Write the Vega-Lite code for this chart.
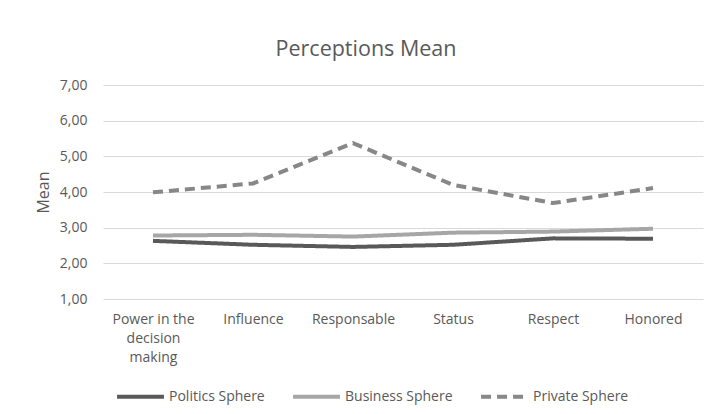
{
  "$schema": "https://vega.github.io/schema/vega-lite/v6.json",
  "width": 600,
  "height": 214,
  "autosize": {"type": "none"},
  "padding": {"left": 103, "top": 85, "right": 8, "bottom": 115},
  "background": "white",
  "title": {
    "text": "Perceptions Mean",
    "fontSize": 21.5,
    "font": "Open Sans",
    "fontWeight": "normal",
    "color": "#595959",
    "anchor": "middle",
    "dx": -37,
    "offset": 18
  },
  "config": {
    "view": {"stroke": null},
    "font": "Open Sans",
    "axis": {
      "labelColor": "#595959",
      "titleColor": "#595959",
      "labelFont": "Open Sans",
      "titleFont": "Open Sans",
      "labelFontSize": 14,
      "titleFontSize": 16,
      "titleFontWeight": "normal",
      "domain": false,
      "ticks": false
    },
    "legend": {
      "labelColor": "#595959",
      "labelFont": "Open Sans",
      "labelFontSize": 14
    }
  },
  "data": {
    "values": [
      {"item": "Power in the decision making", "series": "Politics Sphere", "value": 2.63},
      {"item": "Influence", "series": "Politics Sphere", "value": 2.52},
      {"item": "Responsable", "series": "Politics Sphere", "value": 2.46},
      {"item": "Status", "series": "Politics Sphere", "value": 2.52},
      {"item": "Respect", "series": "Politics Sphere", "value": 2.70},
      {"item": "Honored", "series": "Politics Sphere", "value": 2.69},
      {"item": "Power in the decision making", "series": "Business Sphere", "value": 2.78},
      {"item": "Influence", "series": "Business Sphere", "value": 2.80},
      {"item": "Responsable", "series": "Business Sphere", "value": 2.75},
      {"item": "Status", "series": "Business Sphere", "value": 2.86},
      {"item": "Respect", "series": "Business Sphere", "value": 2.89},
      {"item": "Honored", "series": "Business Sphere", "value": 2.97},
      {"item": "Power in the decision making", "series": "Private Sphere", "value": 3.99},
      {"item": "Influence", "series": "Private Sphere", "value": 4.24},
      {"item": "Responsable", "series": "Private Sphere", "value": 5.37},
      {"item": "Status", "series": "Private Sphere", "value": 4.20},
      {"item": "Respect", "series": "Private Sphere", "value": 3.69},
      {"item": "Honored", "series": "Private Sphere", "value": 4.11}
    ]
  },
  "mark": {"type": "line", "strokeWidth": 4, "strokeCap": "butt"},
  "encoding": {
    "x": {
      "field": "item",
      "type": "nominal",
      "sort": null,
      "scale": {"type": "point", "padding": 0.5},
      "axis": {
        "title": null,
        "labelAngle": 0,
        "labelPadding": 13,
        "labelLineHeight": 19,
        "labelBaseline": "top",
        "grid": false,
        "labelExpr": "datum.label == 'Power in the decision making' ? ['Power in the', 'decision', 'making'] : datum.label"
      }
    },
    "y": {
      "field": "value",
      "type": "quantitative",
      "scale": {"domain": [1, 7], "nice": false, "zero": false},
      "axis": {
        "title": "Mean",
        "values": [1, 2, 3, 4, 5, 6, 7],
        "labelExpr": "replace(format(datum.value, '.2f'), '.', ',')",
        "labelPadding": 16,
        "titlePadding": 8,
        "gridColor": "#d9d9d9",
        "gridWidth": 1
      }
    },
    "color": {
      "field": "series",
      "type": "nominal",
      "sort": ["Politics Sphere", "Business Sphere", "Private Sphere"],
      "scale": {
        "domain": ["Politics Sphere", "Business Sphere", "Private Sphere"],
        "range": ["#595959", "#a6a6a6", "#878787"]
      },
      "legend": {
        "title": null,
        "orient": "none",
        "direction": "horizontal",
        "legendX": 12,
        "legendY": 286,
        "symbolType": "stroke",
        "symbolSize": 2200,
        "symbolStrokeWidth": 4,
        "columnPadding": 20,
        "labelOffset": 3
      }
    },
    "strokeDash": {
      "field": "series",
      "type": "nominal",
      "sort": ["Politics Sphere", "Business Sphere", "Private Sphere"],
      "scale": {
        "domain": ["Politics Sphere", "Business Sphere", "Private Sphere"],
        "range": [[1, 0], [1, 0], [10, 6]]
      },
      "legend": null
    }
  }
}
